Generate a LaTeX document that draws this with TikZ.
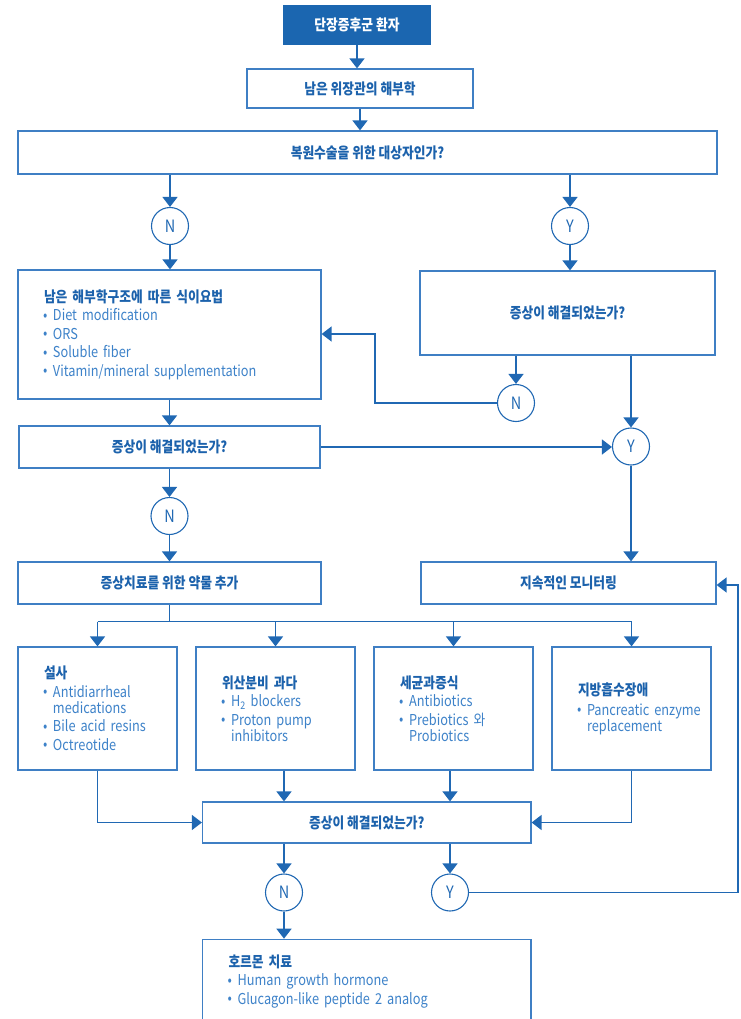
\documentclass[tikz,border=0pt]{standalone}
\usepackage{fontspec}
\setmainfont{Noto Sans CJK KR}[FakeStretch=0.85]
\usetikzlibrary{arrows.meta,calc}

\definecolor{deepblue}{HTML}{1B66B0}
\definecolor{linec}{HTML}{2068B3}
\definecolor{framec}{HTML}{3F7FC4}
\definecolor{headc}{HTML}{1C62AC}
\definecolor{itemc}{HTML}{3D82C9}

% bullet with a fixed-width slot, and the matching hanging indent
\newcommand\bul{\makebox[9pt][l]{\hspace*{-1pt}\raisebox{0.5pt}{\fontsize{15}{15}\selectfont •}}}
\newcommand\hang{\hspace*{9pt}}
\newcommand\hd[1]{{\bfseries\color{headc}#1}}

\tikzset{
  box/.style={draw=framec, line width=1.2pt, fill=white, inner sep=0pt},
  label/.style={box, font=\fontsize{15}{16}\selectfont\bfseries, text=headc},
  listbox/.style={box, inner xsep=26pt, align=left,
                  font=\fontsize{15}{16}\selectfont, text=itemc},
  yn/.style={circle, draw=linec, line width=1.1pt, fill=white, minimum size=37pt,
             inner sep=0pt, font=\fontsize{17}{17}\selectfont, text=linec},
  conn/.style={draw=linec, line width=1.4pt},
  arr/.style={conn, -{Triangle[width=15pt,length=10pt]}},
}

\begin{document}
\begin{tikzpicture}[x=1pt,y=-1pt]
\useasboundingbox (0,0) rectangle (740,1019);
\clip (0,0) rectangle (740,1019);

% ---- top chain ----
\node[box, draw=deepblue, fill=deepblue, minimum width=146pt, minimum height=39pt,
      font=\fontsize{15}{16}\selectfont\bfseries, text=white] (start) at (357,25) {단장증후군 환자};
\node[label, minimum width=226pt, minimum height=39pt] (anat) at (360,88.5) {남은 위장관의 해부학};
\node[label, minimum width=699pt, minimum height=43pt] (q1) at (367.5,152.5) {복원수술을 위한 대상자인가?};
\node[yn] (n1) at (170,226) {N};
\node[yn] (y1) at (570,226) {Y};

% ---- second level ----
\node[listbox, text width=251pt, minimum height=129pt] (diet) at (169.5,334.5)
  {\hd{남은 해부학구조에 따른 식이요법}\\[2.5pt]
   \bul Diet modification\\[2.5pt]
   \bul ORS\\[2.5pt]
   \bul Soluble fiber\\[2.5pt]
   \bul Vitamin/mineral supplementation};
\node[label, minimum width=295pt, minimum height=84pt] (q2) at (567.5,313) {증상이 해결되었는가?};
\node[yn] (n2) at (516,403) {N};
\node[yn] (y2) at (631,446.5) {Y};
\node[label, minimum width=301pt, minimum height=42pt] (q3) at (169.5,447) {증상이 해결되었는가?};
\node[yn] (n3) at (169.5,516) {N};
\node[label, minimum width=303pt, minimum height=42pt] (drug) at (169.5,583) {증상치료를 위한 약물 추가};
\node[label, minimum width=295pt, minimum height=42pt] (mon) at (568.5,583) {지속적인 모니터링};

% ---- symptom boxes ----
\node[listbox, text width=107pt, minimum height=123pt] (b1) at (97.5,708.5)
  {\hd{설사}\\[2.5pt]
   \bul Antidiarrheal\\ \hang medications\\[2.5pt]
   \bul Bile acid resins\\[2.5pt]
   \bul Octreotide};
\node[listbox, text width=107pt, minimum height=123pt] (b2) at (275.5,708.5)
  {\hd{위산분비 과다}\\[2.5pt]
   \bul H\textsubscript{2} blockers\\[2.5pt]
   \bul Proton pump\\ \hang inhibitors};
\node[listbox, text width=107pt, minimum height=123pt] (b3) at (453.5,708.5)
  {\hd{세균과증식}\\[2.5pt]
   \bul Antibiotics\\[2.5pt]
   \bul Prebiotics 와\\ \hang Probiotics};
\node[listbox, text width=107pt, minimum height=123pt] (b4) at (631.5,708.5)
  {\hd{지방흡수장애}\\[4pt]
   \mbox{\bul Pancreatic enzyme}\\ \hang replacement};

\node[label, minimum width=328.5pt, minimum height=41pt] (q4) at (366.75,822.5) {증상이 해결되었는가?};
\node[yn] (n4) at (284,892.5) {N};
\node[yn] (y4) at (450,892.5) {Y};
\node[listbox, anchor=north, text width=276.5pt, minimum height=84pt] (horm) at (366.75,938.7)
  {\hd{호르몬 치료}\\[2.5pt]
   \bul Human growth hormone\\[2.5pt]
   \bul Glucagon-like peptide 2 analog};

% ---- connectors ----
\draw[arr] (start.south) -- (start.south |- anat.north);
\draw[arr] (anat.south) -- (anat.south |- q1.north);
\draw[arr] (q1.south -| n1) -- (n1.north);
\draw[arr] (q1.south -| y1) -- (y1.north);
\draw[arr] (n1.south) -- (n1.south |- diet.north);
\draw[arr] (y1.south) -- (y1.south |- q2.north);
\draw[arr] (q2.south -| n2) -- (n2.north);
\draw[arr] (q2.south -| y2) -- (y2.north);
\coordinate (backN) at (375,334);
\draw[arr] (n2.west) -| (backN) -- (diet.east |- backN);
\draw[arr] (diet.south) -- (diet.south |- q3.north);
\draw[arr] (q3.east) -- (q3.east -| y2.west);
\draw[arr] (q3.south) -- (n3.north);
\draw[arr] (n3.south) -- (n3.south |- drug.north);
\draw[arr] (y2.south) -- (y2.south |- mon.north);

\coordinate (split) at (169.5,621.7);
\draw[conn] (drug.south) -- (split);
\draw[conn] (b1.north |- split) -- (b4.north |- split);
\foreach \b in {b1,b2,b3,b4}
  \draw[arr] (\b.north |- split) -- (\b.north);

\draw[arr] (b1.south) |- (q4.west);
\draw[arr] (b2.south -| n4) -- (q4.north -| n4);
\draw[arr] (b3.south -| y4) -- (q4.north -| y4);
\draw[arr] (b4.south) |- (q4.east);
\draw[arr] (q4.south -| n4) -- (n4.north);
\draw[arr] (q4.south -| y4) -- (y4.north);
\draw[arr] (n4.south) -- (n4.south |- horm.north);
\coordinate (backY) at (738,585);
\draw[arr] (y4.east) -| (backY) -- (mon.east |- backY);
\end{tikzpicture}
\end{document}
